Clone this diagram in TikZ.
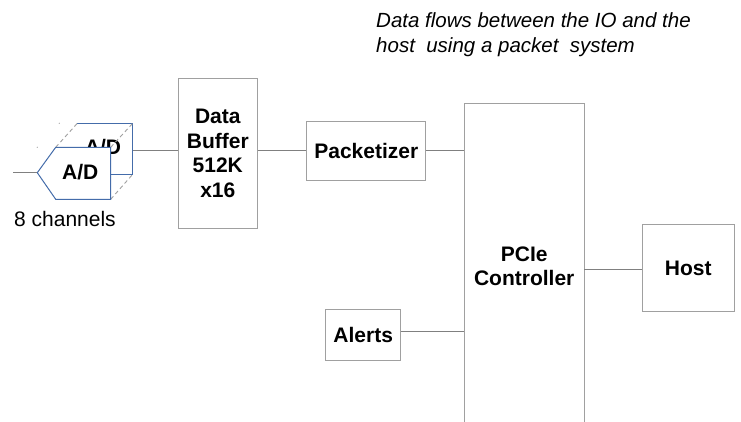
\documentclass[tikz,border=0pt]{standalone}
\usepackage{fontspec}
\setmainfont{Liberation Sans}
\definecolor{linegray}{RGB}{128,128,128}
\definecolor{boxgray}{RGB}{160,160,160}
\definecolor{adblue}{RGB}{68,108,170}
\begin{document}
\begin{tikzpicture}[x=1pt,y=-1pt,
  every node/.style={font=\fontsize{21}{24.5}\selectfont, inner sep=0pt},
  blk/.style={draw=boxgray, line width=1pt, fill=white, align=center, font=\fontsize{21}{24.5}\selectfont\bfseries},
  conn/.style={draw=linegray, line width=1pt},
  adline/.style={draw=adblue, line width=1pt},
  hidden/.style={draw=boxgray, line width=0.9pt, dash pattern=on 4pt off 3pt}]
\useasboundingbox (0,0) rectangle (741,422);

% caption
\node[anchor=base west, align=left, font=\fontsize{20.5}{25}\selectfont\itshape] (cap) at (376,52.3)
  {Data flows between the IO and the\\host\ \ using a packet\ \ system};

% blocks
\node[blk, minimum width=79pt, minimum height=150pt] (buf) at (217.8,153.5) {Data\\Buffer\\512K\\x16};
\node[blk, minimum width=119.3pt, minimum height=59.3pt] (pkt) at (366.3,150.8) {Packetizer};
\node[blk, minimum width=75pt, minimum height=51.3pt] (alerts) at (363.2,334.7) {Alerts};
\node[blk, minimum width=92pt, minimum height=86.4pt] (host) at (688.3,268) {Host};
\node[align=center, font=\fontsize{21}{24.5}\selectfont\bfseries, minimum width=119.7pt, minimum height=325.4pt] (pcie) at (524.2,266.5) {PCIe\\Controller};
\draw[draw=boxgray, line width=1pt] (pcie.south west) -- (pcie.north west) -- (pcie.north east) -- (pcie.south east);

% A/D converters (3D stacked)
\coordinate (adtip) at (37.3,172.7);
\coordinate (adout) at (132.7,151);
\coordinate (inp) at (13,172.7);
\fill[white] (60,148) -- (77.3,123.3) -- (132.7,123.3) -- (132.7,174.3) -- (77.3,174.3) -- cycle;
\node[font=\fontsize{21}{24.5}\selectfont\bfseries] (adback) at (103,147.5) {A/D};
\draw[adline] (77.3,123.3) -- (132.7,123.3) -- (132.7,174.3) -- (110.7,174.3);
\draw[hidden] (55.7,147.3) -- (77.3,123.3);
\draw[hidden] (110.7,147.3) -- (132.7,123.3);
\draw[hidden] (110.7,199.3) -- (132.7,174.3);
\draw[adline, fill=white] (adtip) -- (55.7,147.3) -- (110.7,147.3) -- (110.7,199.3) -- (55.7,199.3) -- cycle;
\node[font=\fontsize{21}{24.5}\selectfont\bfseries] (adfront) at (80.3,172) {A/D};
\fill[boxgray] (59.3,123.3) circle (0.6pt) (37.3,147.3) circle (0.6pt);
\node[anchor=base west] (chan) at (14,226.7) {8 channels};

% connectors
\draw[conn] (inp) -- (adtip);
\draw[conn] (adout) -- (buf.west |- adout);
\draw[conn] (buf.east |- adout) -- (pkt.west |- adout);
\draw[conn] (pkt.east |- adout) -- (pcie.west |- adout);
\draw[conn] ([yshift=3.7pt]alerts.east) -- (pcie.west |- 0,331);
\draw[conn] (pcie.east |- 0,269) -- (host.west |- 0,269);
\end{tikzpicture}
\end{document}
